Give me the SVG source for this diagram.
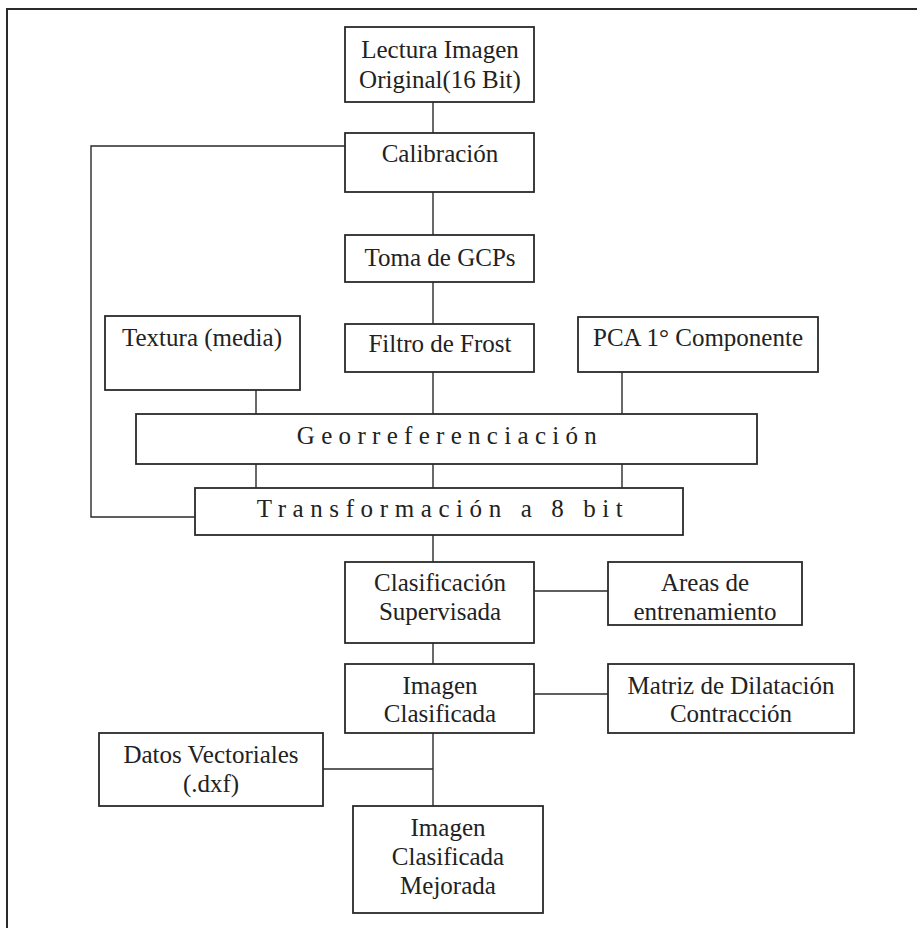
<svg xmlns="http://www.w3.org/2000/svg" width="917" height="928" viewBox="0 0 917 928">
<style>
.box{fill:#fff;stroke:#2a2a2a;stroke-width:1.8}
.ln{fill:none;stroke:#2a2a2a;stroke-width:1.4}
.frame{fill:none;stroke:#2a2a2a;stroke-width:2}
text{font-family:"Liberation Serif","Times New Roman",serif;font-size:25px;fill:#222;text-anchor:middle}
</style>
<rect width="917" height="928" fill="#fff"/>
<polyline class="frame" points="7,928 7,9 917,9"/>
<g id="connectors">
<line class="ln" x1="433" y1="102" x2="433" y2="133"/>
<line class="ln" x1="433" y1="192" x2="433" y2="235"/>
<line class="ln" x1="433" y1="282" x2="433" y2="324"/>
<polyline class="ln" points="345,146 91,146 91,517 195,517"/>
<line class="ln" x1="256" y1="390" x2="256" y2="414"/>
<line class="ln" x1="433" y1="372" x2="433" y2="414"/>
<line class="ln" x1="622" y1="372" x2="622" y2="414"/>
<line class="ln" x1="256" y1="464" x2="256" y2="488"/>
<line class="ln" x1="433" y1="464" x2="433" y2="488"/>
<line class="ln" x1="622" y1="464" x2="622" y2="488"/>
<line class="ln" x1="433" y1="535" x2="433" y2="562"/>
<line class="ln" x1="534" y1="591" x2="608" y2="591"/>
<line class="ln" x1="433" y1="643" x2="433" y2="664"/>
<line class="ln" x1="534" y1="694" x2="608" y2="694"/>
<line class="ln" x1="433" y1="733" x2="433" y2="806"/>
<line class="ln" x1="323" y1="769" x2="433" y2="769"/>
</g>
<g id="lectura"><rect class="box" x="345" y="27" width="189" height="75"/><text x="440" y="58">Lectura Imagen</text><text x="440" y="88">Original(16 Bit)</text></g>
<g id="calibracion"><rect class="box" x="345" y="133" width="189" height="59"/><text x="440" y="162">Calibración</text></g>
<g id="gcps"><rect class="box" x="345" y="235" width="189" height="47"/><text x="440" y="266">Toma de GCPs</text></g>
<g id="textura"><rect class="box" x="105" y="316" width="195" height="74"/><text x="202" y="346">Textura (media)</text></g>
<g id="frost"><rect class="box" x="345" y="324" width="189" height="48"/><text x="440" y="352">Filtro de Frost</text></g>
<g id="pca"><rect class="box" x="578" y="317" width="240" height="55"/><text x="698" y="346">PCA 1° Componente</text></g>
<g id="georref"><rect class="box" x="136" y="414" width="621" height="50"/><text x="450" y="444" letter-spacing="6.3">Georreferenciación</text></g>
<g id="transf"><rect class="box" x="195" y="488" width="488" height="47"/><text x="443" y="517" letter-spacing="6.6">Transformación a 8 bit</text></g>
<g id="clasif"><rect class="box" x="345" y="562" width="189" height="81"/><text x="440" y="591">Clasificación</text><text x="440" y="620">Supervisada</text></g>
<g id="areas"><rect class="box" x="608" y="562" width="194" height="63"/><text x="705" y="591">Areas de</text><text x="705" y="620">entrenamiento</text></g>
<g id="imgclasif"><rect class="box" x="345" y="664" width="189" height="69"/><text x="440" y="694">Imagen</text><text x="440" y="722">Clasificada</text></g>
<g id="matriz"><rect class="box" x="608" y="664" width="246" height="69"/><text x="731" y="694">Matriz de Dilatación</text><text x="731" y="722">Contracción</text></g>
<g id="datos"><rect class="box" x="99" y="733" width="224" height="73"/><text x="211" y="763">Datos Vectoriales</text><text x="211" y="792">(.dxf)</text></g>
<g id="mejorada"><rect class="box" x="353" y="806" width="190" height="107"/><text x="448" y="836">Imagen</text><text x="448" y="865">Clasificada</text><text x="448" y="894">Mejorada</text></g>
</svg>
